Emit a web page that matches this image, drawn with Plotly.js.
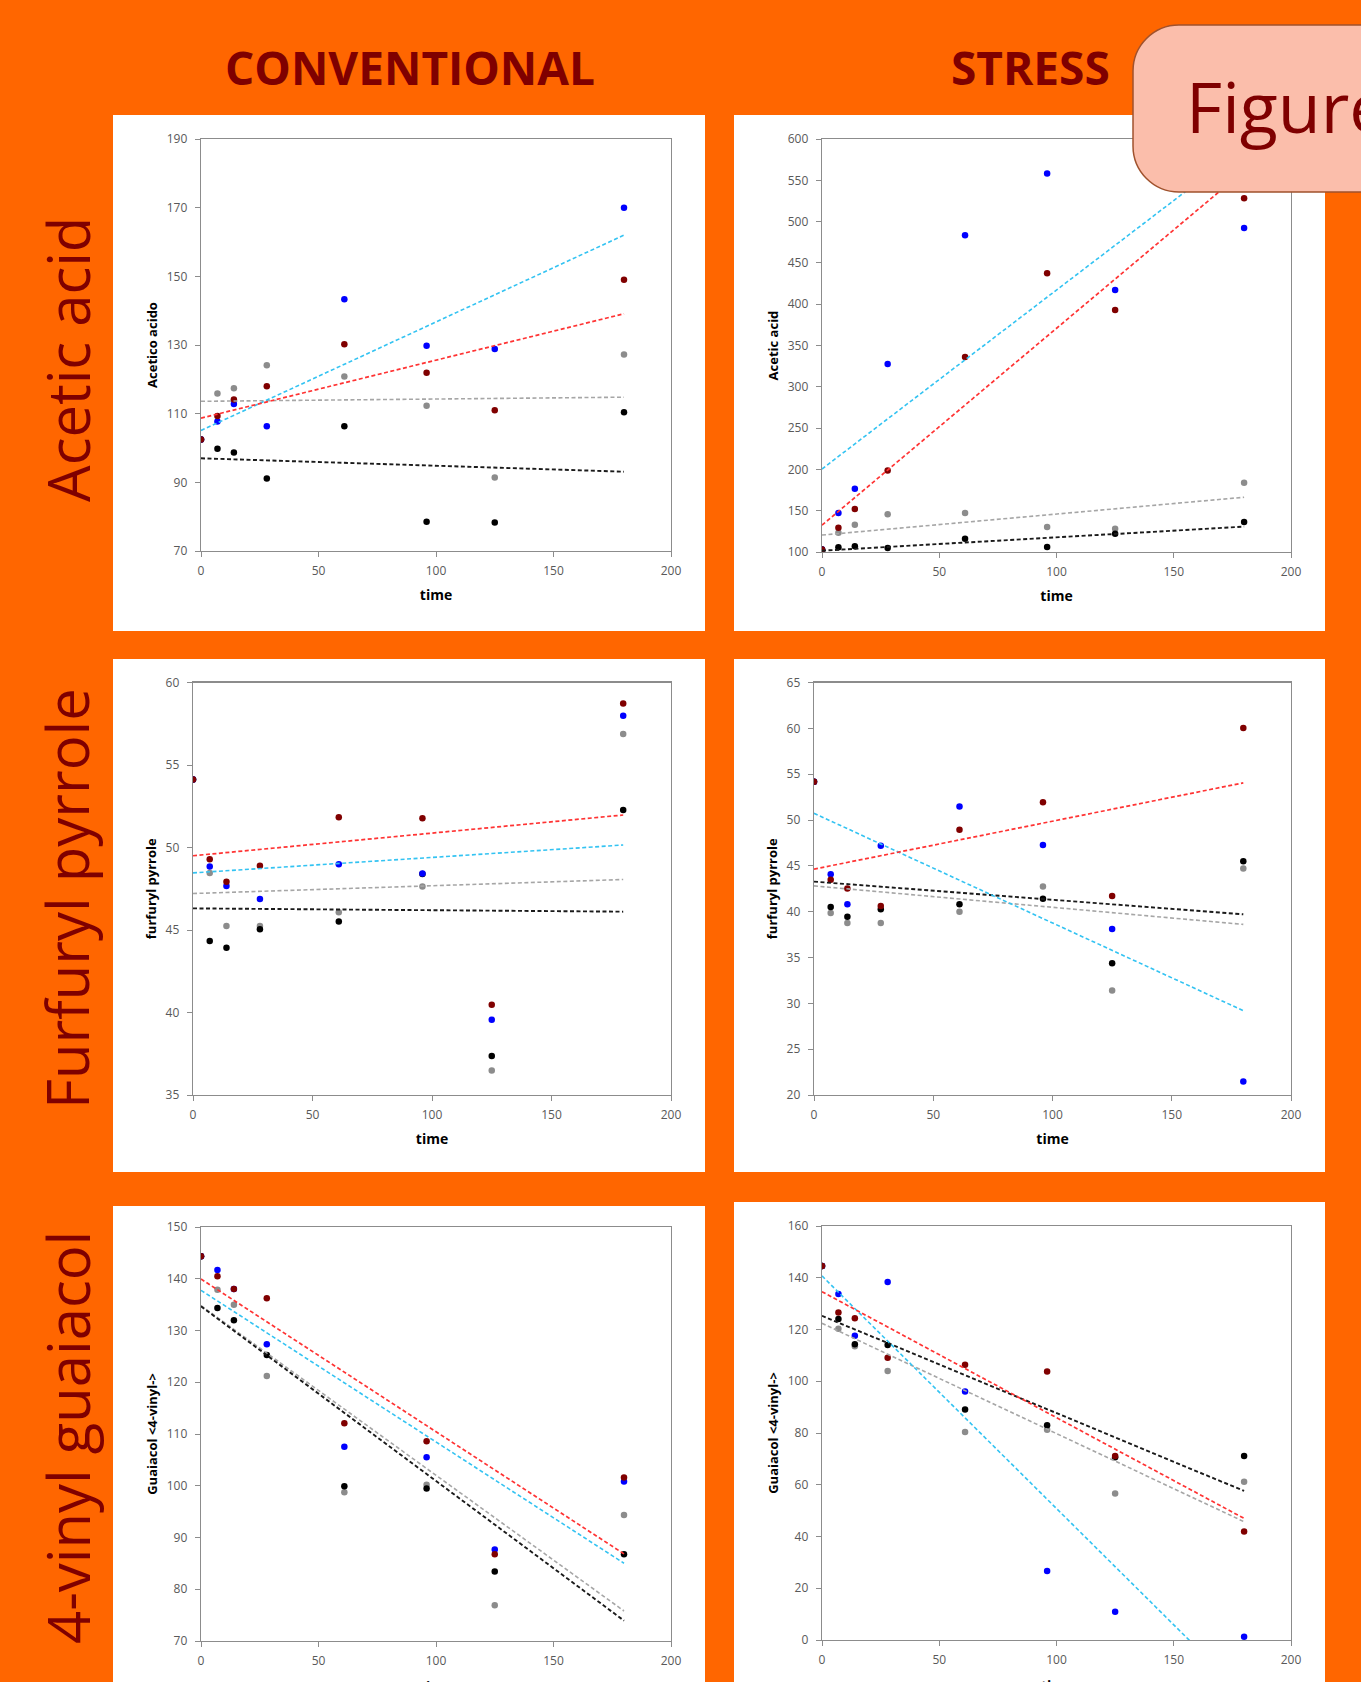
<!DOCTYPE html>
<html>
<head>
<meta charset="utf-8">
<script src="https://cdn.plot.ly/plotly-3.0.1.min.js"></script>
<style>
html,body{margin:0;padding:0;background:#FF6600;}
#chart{width:1361px;height:1682px;}
</style>
</head>
<body>
<div id="chart"></div>
<script>
// ---------------- DATA ----------------
const time = [0, 7, 14, 28, 61, 96, 125, 180];
const trendTime = [0, 180];

const columnTitles = ['CONVENTIONAL', 'STRESS'];
const rowLabels = ['Acetic acid', 'Furfuryl pyrrole', '4-vinyl guaiacol'];
const yTitles = ['Acetico acido', 'Acetic acid', 'furfuryl pyrrole', 'furfuryl pyrrole',
                 'Guaiacol &lt;4-vinyl-&gt;', 'Guaiacol &lt;4-vinyl-&gt;'];
const xTitle = 'time';
const figureLabel = 'Figure';

// Panel 1: conventional, acetic acid
const convAceticGray    = [102.5, 115.9, 117.4, 124.1, 120.8, 112.3, 91.4, 127.2];
const convAceticBlack   = [102.5, 99.8, 98.7, 91.1, 106.3, 78.5, 78.3, 110.4];
const convAceticBlue    = [102.5, 107.7, 112.8, 106.3, 143.3, 129.8, 128.8, 170.0];
const convAceticDarkRed = [102.5, 109.3, 114.1, 118.0, 130.2, 121.9, 111.0, 149.0];
const convAceticTrendRed   = [108.7, 139.1];
const convAceticTrendCyan  = [105.1, 162.0];
const convAceticTrendGray  = [113.6, 114.8];
const convAceticTrendBlack = [97.0, 93.1];

// Panel 2: stress, acetic acid
const stressAceticGray    = [102.9, 123.3, 133.1, 145.8, 147.1, 130.3, 128.2, 183.9];
const stressAceticBlack   = [102.9, 105.7, 107.0, 104.9, 116.0, 106.1, 122.1, 136.4];
const stressAceticBlue    = [102.9, 147.1, 176.5, 327.5, 483.4, 558.3, 417.1, 492.4];
const stressAceticDarkRed = [102.9, 129.5, 152.0, 198.6, 336.1, 437.6, 393.0, 528.4];
const stressAceticTrendRed   = [132.5, 561.5];
const stressAceticTrendCyan  = [200.5, 590.5];
const stressAceticTrendGray  = [120.5, 166.3];
const stressAceticTrendBlack = [101.6, 130.7];

// Panel 3: conventional, furfuryl pyrrole
const convFurfGray    = [54.12, 48.46, 45.24, 45.24, 46.07, 47.63, 36.48, 56.88];
const convFurfBlack   = [54.12, 44.33, 43.92, 45.04, 45.52, 48.40, 37.37, 52.27];
const convFurfBlue    = [54.12, 48.85, 47.67, 46.88, 48.99, 48.42, 39.56, 57.99];
const convFurfDarkRed = [54.12, 49.29, 47.92, 48.89, 51.83, 51.77, 40.47, 58.72];
const convFurfTrendRed   = [49.50, 51.97];
const convFurfTrendCyan  = [48.46, 50.15];
const convFurfTrendGray  = [47.21, 48.06];
const convFurfTrendBlack = [46.31, 46.11];

// Panel 4: stress, furfuryl pyrrole
const stressFurfGray    = [54.16, 39.85, 38.76, 38.76, 40.00, 42.74, 31.39, 44.71];
const stressFurfBlack   = [54.16, 40.51, 39.45, 40.26, 40.80, 41.42, 34.38, 45.51];
const stressFurfBlue    = [54.16, 44.09, 40.80, 47.19, 51.46, 47.26, 38.10, 21.46];
const stressFurfDarkRed = [54.16, 43.47, 42.52, 40.62, 48.94, 51.93, 41.72, 60.04];
const stressFurfTrendRed   = [44.64, 54.05];
const stressFurfTrendCyan  = [50.73, 29.20];
const stressFurfTrendGray  = [42.81, 38.61];
const stressFurfTrendBlack = [43.28, 39.71];

// Panel 5: conventional, 4-vinyl guaiacol
const convGuaiGray    = [144.34, 137.89, 135.00, 121.19, 98.76, 100.17, 76.90, 94.37];
const convGuaiBlack   = [144.34, 134.35, 131.96, 125.25, 99.92, 99.46, 83.41, 86.76];
const convGuaiBlue    = [144.34, 141.70, 138.00, 127.32, 107.52, 105.53, 87.67, 100.82];
const convGuaiDarkRed = [144.34, 140.47, 138.02, 136.21, 112.10, 108.62, 86.76, 101.59];
const convGuaiTrendRed   = [139.95, 86.83];
const convGuaiTrendCyan  = [137.76, 85.02];
const convGuaiTrendGray  = [134.80, 75.80];
const convGuaiTrendBlack = [134.67, 73.93];

// Panel 6: stress, 4-vinyl guaiacol
const stressGuaiGray    = [144.5, 120.3, 113.5, 104.0, 80.4, 81.3, 56.6, 61.2];
const stressGuaiBlack   = [144.5, 124.1, 114.3, 114.0, 89.1, 83.0, 70.6, 71.1];
const stressGuaiBlue    = [144.5, 133.7, 117.6, 138.4, 96.0, 26.7, 10.9, 1.3];
const stressGuaiDarkRed = [144.5, 126.6, 124.3, 109.1, 106.4, 103.8, 71.1, 41.9];
const stressGuaiTrendRed   = [134.6, 47.0];
const stressGuaiTrendCyan  = [140.7, -21.1];
const stressGuaiTrendGray  = [122.4, 45.7];
const stressGuaiTrendBlack = [125.3, 57.6];

// ---------------- STYLE / LAYOUT ----------------
const W = 1361, H = 1682;
const FONT = 'Open Sans, sans-serif';
const DARKRED_TXT = '#7F0000';

const panels = [
  {series:[convAceticGray, convAceticBlack, convAceticBlue, convAceticDarkRed],
   trends:[convAceticTrendGray, convAceticTrendBlack, convAceticTrendCyan, convAceticTrendRed],
   yr:[70,190], dt:20, box:[113,115,705,631], area:[201,139,671,551]},
  {series:[stressAceticGray, stressAceticBlack, stressAceticBlue, stressAceticDarkRed],
   trends:[stressAceticTrendGray, stressAceticTrendBlack, stressAceticTrendCyan, stressAceticTrendRed],
   yr:[100,600], dt:50, box:[734,115,1325,631], area:[822,139,1291,552]},
  {series:[convFurfGray, convFurfBlack, convFurfBlue, convFurfDarkRed],
   trends:[convFurfTrendGray, convFurfTrendBlack, convFurfTrendCyan, convFurfTrendRed],
   yr:[35,60], dt:5, box:[113,659,705,1172], area:[193,682.5,671,1095]},
  {series:[stressFurfGray, stressFurfBlack, stressFurfBlue, stressFurfDarkRed],
   trends:[stressFurfTrendGray, stressFurfTrendBlack, stressFurfTrendCyan, stressFurfTrendRed],
   yr:[20,65], dt:5, box:[734,659,1325,1172], area:[814,682.5,1291,1095]},
  {series:[convGuaiGray, convGuaiBlack, convGuaiBlue, convGuaiDarkRed],
   trends:[convGuaiTrendGray, convGuaiTrendBlack, convGuaiTrendCyan, convGuaiTrendRed],
   yr:[70,150], dt:10, box:[113,1206,705,1700], area:[201,1227,671,1641], cutTitle:true},
  {series:[stressGuaiGray, stressGuaiBlack, stressGuaiBlue, stressGuaiDarkRed],
   trends:[stressGuaiTrendGray, stressGuaiTrendBlack, stressGuaiTrendCyan, stressGuaiTrendRed],
   yr:[0,160], dt:20, box:[734,1202,1325,1700], area:[822,1226,1291,1640], cutTitle:true}
];

const seriesNames = ['gray', 'black', 'blue', 'dark red'];
const markerColors = ['#8C8C8C', '#000000', '#0000FF', '#800000'];
const trendColors  = ['#A6A6A6', '#1A1A1A', '#33C3F2', '#FF3333'];
const trendWidths  = [1.6, 1.9, 1.6, 1.7];

const fx = px => px / W;
const fy = py => 1 - py / H;

const traces = [];
const layout = {
  width: W, height: H,
  margin: {l:0, r:0, t:0, b:0},
  paper_bgcolor: '#FF6600',
  plot_bgcolor: '#FFFFFF',
  showlegend: false,
  font: {family: FONT},
  shapes: [],
  annotations: []
};

const xTitleFont = {family:FONT, size:14, color:'#000000', weight:'bold'};

panels.forEach((p, i) => {
  const n = i + 1;
  const xa = 'x' + (n === 1 ? '' : n), ya = 'y' + (n === 1 ? '' : n);
  const xKey = 'xaxis' + (n === 1 ? '' : n), yKey = 'yaxis' + (n === 1 ? '' : n);

  // markers
  p.series.forEach((s, k) => {
    traces.push({type:'scatter', mode:'markers', x: time, y: s, xaxis: xa, yaxis: ya,
      name: seriesNames[k], marker:{color: markerColors[k], size: 6.5}, cliponaxis: true,
      hoverinfo:'x+y'});
  });
  // trend lines
  p.trends.forEach((t, k) => {
    traces.push({type:'scatter', mode:'lines', x: trendTime, y: t, xaxis: xa, yaxis: ya,
      name: seriesNames[k] + ' trend',
      line:{color: trendColors[k], width: trendWidths[k], dash:'4px,2.5px'}, hoverinfo:'skip'});
  });

  const a = p.area;
  layout[xKey] = {
    domain:[fx(a[0]), fx(a[2])], anchor: ya, range:[0,200], dtick:50, tick0:0,
    showline:true, linecolor:'#8C8C8C', linewidth:1.3, mirror:true,
    ticks:'outside', ticklen:5, tickwidth:1, tickcolor:'#8C8C8C',
    showgrid:false, zeroline:false, fixedrange:true, ticklabelstandoff:3,
    tickfont:{family:FONT, size:12, color:'#595959'},
    title:{text: p.cutTitle ? '' : xTitle, standoff:12, font:xTitleFont}
  };
  layout[yKey] = {
    domain:[fy(a[3]), fy(a[1])], anchor: xa, range:p.yr, dtick:p.dt, tick0:p.yr[0],
    showline:true, linecolor:'#8C8C8C', linewidth:1.3, mirror:true,
    ticks:'outside', ticklen:5, tickwidth:1, tickcolor:'#8C8C8C',
    showgrid:false, zeroline:false, fixedrange:true, ticklabelstandoff:5,
    tickfont:{family:FONT, size:12, color:'#595959'},
    title:{text:yTitles[i], standoff:6, font:{family:FONT, size:13, color:'#000000', weight:'bold'}}
  };

  // bottom-row x title: sits at the page edge, as in the reference (partly cut off)
  if (p.cutTitle) {
    layout.annotations.push({xref:'paper', yref:'paper', x:fx((a[0] + a[2]) / 2), y:fy(a[3] + 45),
      xanchor:'center', yanchor:'middle', text:xTitle, showarrow:false, font:xTitleFont});
  }

  const b = p.box;
  layout.shapes.push({type:'rect', xref:'paper', yref:'paper', layer:'below',
    x0:fx(b[0]), x1:fx(b[2]), y0:fy(b[3]), y1:fy(b[1]),
    fillcolor:'#FFFFFF', line:{width:0}});
});

// "Figure" rounded box (partly off the page on the right)
(function(){
  const L = 1133, T = 25, B = 192, R = 1420, r = 46, k = 0.5523;
  const P = (x, y) => fx(x).toFixed(5) + ',' + fy(y).toFixed(5);
  const path = 'M' + P(L + r, T) + ' L' + P(R, T) + ' L' + P(R, B) + ' L' + P(L + r, B) +
    ' C' + P(L + r - k * r, B) + ' ' + P(L, B - r + k * r) + ' ' + P(L, B - r) +
    ' L' + P(L, T + r) +
    ' C' + P(L, T + r - k * r) + ' ' + P(L + r - k * r, T) + ' ' + P(L + r, T) + ' Z';
  layout.shapes.push({type:'path', xref:'paper', yref:'paper', layer:'above', path,
    fillcolor:'#FBBEAB', line:{color:'#A0522D', width:1.5}});
})();

layout.annotations.push({xref:'paper', yref:'paper', x:fx(1184), y:fy(106), xanchor:'left', yanchor:'middle',
  text:figureLabel, showarrow:false, font:{family:FONT, size:70, color:DARKRED_TXT}});

// Column titles
[[410, columnTitles[0]], [1030, columnTitles[1]]].forEach(([cx, t]) => {
  layout.annotations.push({xref:'paper', yref:'paper', x:fx(cx), y:fy(67), xanchor:'center', yanchor:'middle',
    text:t, showarrow:false, font:{family:FONT, size:46, color:DARKRED_TXT, weight:'bold'}});
});

// Row labels
[[360, rowLabels[0]], [899, rowLabels[1]], [1438, rowLabels[2]]].forEach(([cy, t]) => {
  layout.annotations.push({xref:'paper', yref:'paper', x:fx(67), y:fy(cy), xanchor:'center', yanchor:'middle',
    textangle:-90, text:t, showarrow:false, font:{family:FONT, size:58, color:DARKRED_TXT}});
});

Plotly.newPlot('chart', traces, layout, {displayModeBar:false, staticPlot:true});
</script>
</body>
</html>
